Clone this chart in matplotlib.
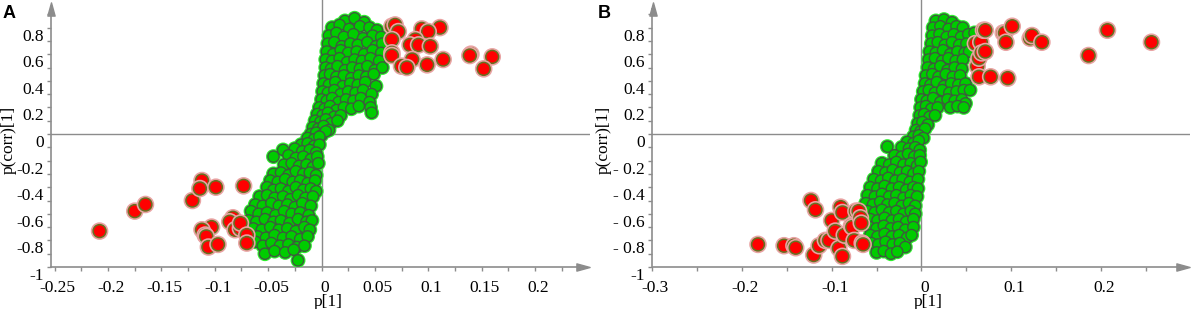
"""S-plots (p[1] vs p(corr)[1]) for two models, panels A and B."""

import matplotlib
matplotlib.use("Agg")
import matplotlib.pyplot as plt
import matplotlib.patheffects as pe
from matplotlib.path import Path
from matplotlib.transforms import ScaledTranslation

FIG_W, FIG_H = 1192, 309
AXIS_GRAY = "#8c8c8c"
GREEN_FILL, GREEN_EDGE, GREEN_RIM = "#00cc00", "#3d5c3d", "#2ef02e"
RED_FILL, RED_EDGE, RED_RIM = "#ff0000", "#667020", "#e9a3a3"
SERIF = ["Liberation Serif", "DejaVu Serif"]
plt.rcParams["font.family"] = SERIF

# ---- panel A -------------------------------------------------------------
A_XTICKS = [-0.25, -0.2, -0.15, -0.1, -0.05, 0, 0.05, 0.1, 0.15, 0.2]
A_XLABELS = ["-0.25", "-0.2", "-0.15", "-0.1", "-0.05", "0", "0.05", "0.1", "0.15", "0.2"]
A_XMINOR = [-0.225, -0.175, -0.125, -0.075, -0.025, 0.025, 0.075, 0.125, 0.175, 0.225]
A_YLABELS = ["-1", "-0.8", "-0.6", "-0.4", "-0.2", "0", "0.2", "0.4", "0.6", "0.8"]

A_GREEN = [
    (0.022, 0.85), (0.031, 0.87), (0.040, 0.84),
    (0.010, 0.80), (0.017, 0.82), (0.026, 0.79), (0.036, 0.81), (0.045, 0.80), (0.052, 0.78),
    (0.007, 0.74), (0.014, 0.76), (0.021, 0.73), (0.030, 0.75), (0.039, 0.72), (0.048, 0.74), (0.056, 0.73),
    (0.006, 0.68), (0.012, 0.69), (0.019, 0.66), (0.027, 0.68), (0.034, 0.67), (0.043, 0.69), (0.051, 0.66), (0.057, 0.68),
    (0.005, 0.62), (0.011, 0.60), (0.018, 0.63), (0.025, 0.61), (0.033, 0.62), (0.040, 0.60), (0.048, 0.63), (0.056, 0.61),
    (0.004, 0.56), (0.010, 0.55), (0.017, 0.57), (0.024, 0.54), (0.031, 0.56), (0.038, 0.55), (0.046, 0.57), (0.054, 0.55),
    (0.004, 0.50), (0.009, 0.49), (0.015, 0.51), (0.022, 0.48), (0.029, 0.50), (0.036, 0.49), (0.043, 0.51), (0.050, 0.48), (0.057, 0.50),
    (0.003, 0.44), (0.008, 0.45), (0.014, 0.43), (0.021, 0.44), (0.028, 0.42), (0.035, 0.44), (0.042, 0.43), (0.049, 0.45),
    (0.002, 0.38), (0.007, 0.37), (0.013, 0.39), (0.020, 0.36), (0.027, 0.38), (0.034, 0.37), (0.041, 0.39), (0.051, 0.36),
    (0.001, 0.32), (0.006, 0.31), (0.012, 0.33), (0.018, 0.30), (0.025, 0.32), (0.032, 0.31), (0.039, 0.33), (0.047, 0.30),
    (0.000, 0.26), (0.005, 0.25), (0.010, 0.27), (0.016, 0.24), (0.023, 0.26), (0.030, 0.25), (0.037, 0.27), (0.045, 0.24),
    (-0.002, 0.20), (0.003, 0.19), (0.008, 0.21), (0.014, 0.18), (0.021, 0.20), (0.028, 0.19), (0.035, 0.21), (0.046, 0.20),
    (-0.004, 0.15), (0.001, 0.14), (0.006, 0.16), (0.012, 0.13), (0.018, 0.14), (0.047, 0.16),
    (-0.006, 0.10), (-0.001, 0.09), (0.004, 0.11), (0.009, 0.08), (0.015, 0.10),
    (-0.008, 0.05), (-0.003, 0.04), (0.002, 0.06), (0.007, 0.03),
    (-0.010, 0.00), (-0.005, 0.01), (0.000, -0.01), (0.004, 0.02),
    (-0.013, -0.03), (-0.007, -0.04), (-0.002, -0.02),
    (-0.019, -0.08), (-0.013, -0.07), (-0.007, -0.09), (-0.002, -0.08),
    (-0.036, -0.12), (-0.025, -0.11), (-0.018, -0.13), (-0.011, -0.12), (-0.005, -0.14),
    (-0.045, -0.17), (-0.031, -0.16), (-0.024, -0.18), (-0.017, -0.17), (-0.010, -0.19), (-0.004, -0.17),
    (-0.035, -0.23), (-0.028, -0.22), (-0.021, -0.24), (-0.014, -0.23), (-0.008, -0.25), (-0.003, -0.22),
    (-0.045, -0.30), (-0.038, -0.29), (-0.031, -0.31), (-0.024, -0.28), (-0.017, -0.30), (-0.011, -0.29), (-0.005, -0.31),
    (-0.048, -0.35), (-0.041, -0.36), (-0.034, -0.34), (-0.027, -0.36), (-0.020, -0.35), (-0.013, -0.37), (-0.006, -0.35),
    (-0.051, -0.40), (-0.045, -0.42), (-0.038, -0.41), (-0.031, -0.43), (-0.024, -0.40), (-0.017, -0.42), (-0.010, -0.41), (-0.005, -0.43),
    (-0.058, -0.47), (-0.051, -0.46), (-0.044, -0.48), (-0.036, -0.47), (-0.029, -0.49), (-0.022, -0.46), (-0.015, -0.48), (-0.008, -0.47),
    (-0.062, -0.53), (-0.055, -0.54), (-0.047, -0.52), (-0.040, -0.54), (-0.032, -0.53), (-0.025, -0.55), (-0.018, -0.52), (-0.010, -0.54),
    (-0.066, -0.58), (-0.059, -0.60), (-0.051, -0.59), (-0.043, -0.61), (-0.035, -0.58), (-0.028, -0.60), (-0.020, -0.59), (-0.012, -0.61),
    (-0.068, -0.65), (-0.061, -0.66), (-0.053, -0.64), (-0.045, -0.66), (-0.038, -0.65), (-0.030, -0.67), (-0.022, -0.64), (-0.014, -0.66), (-0.009, -0.65),
    (-0.064, -0.71), (-0.056, -0.72), (-0.048, -0.70), (-0.040, -0.72), (-0.032, -0.71), (-0.024, -0.73), (-0.016, -0.70), (-0.011, -0.72),
    (-0.060, -0.77), (-0.052, -0.78), (-0.044, -0.76), (-0.036, -0.78), (-0.028, -0.77), (-0.020, -0.79), (-0.013, -0.77),
    (-0.062, -0.81), (-0.055, -0.84), (-0.047, -0.82), (-0.039, -0.84), (-0.031, -0.83), (-0.023, -0.85), (-0.016, -0.84),
    (-0.053, -0.90), (-0.044, -0.88), (-0.034, -0.89), (-0.026, -0.87),
    (-0.022, -0.95),
]

A_RED = [
    (-0.208, -0.73), (-0.175, -0.58), (-0.165, -0.53), (-0.121, -0.50), (-0.112, -0.35),
    (-0.114, -0.41), (-0.099, -0.40), (-0.073, -0.39), (-0.083, -0.63), (-0.086, -0.66),
    (-0.103, -0.70), (-0.112, -0.72), (-0.109, -0.76), (-0.108, -0.77), (-0.106, -0.85),
    (-0.097, -0.83), (-0.081, -0.72), (-0.076, -0.71), (-0.076, -0.67), (-0.070, -0.76),
    (-0.070, -0.82),
    (0.066, 0.81), (0.069, 0.82), (0.072, 0.77), (0.094, 0.79), (0.111, 0.80), (0.100, 0.77),
    (0.066, 0.71), (0.088, 0.71), (0.083, 0.67), (0.091, 0.67), (0.102, 0.66), (0.066, 0.61),
    (0.066, 0.59), (0.085, 0.56), (0.075, 0.51), (0.080, 0.50), (0.099, 0.52), (0.114, 0.56),
    (0.140, 0.60), (0.139, 0.59), (0.160, 0.58), (0.152, 0.49),
]

# ---- panel B -------------------------------------------------------------
B_XTICKS = [-0.3, -0.2, -0.1, 0, 0.1, 0.2]
B_XLABELS = ["-0.3", "-0.2", "-0.1", "0", "0.1", "0.2"]
B_XMINOR = [-0.25, -0.15, -0.05, 0.05, 0.15, 0.25]
B_YLABELS = ["-1", "- 0.8", "- 0.6", "- 0.4", "- 0.2", "0", "0.2", "0.4", "0.6", "0.8"]

B_GREEN = [
    (0.016, 0.85), (0.025, 0.86), (0.034, 0.84),
    (0.013, 0.80), (0.021, 0.81), (0.030, 0.79), (0.039, 0.81), (0.046, 0.80),
    (0.012, 0.74), (0.020, 0.75), (0.028, 0.73), (0.036, 0.75), (0.044, 0.73), (0.052, 0.75), (0.059, 0.76),
    (0.011, 0.68), (0.018, 0.69), (0.026, 0.67), (0.034, 0.69), (0.042, 0.67), (0.050, 0.68),
    (0.009, 0.62), (0.016, 0.61), (0.024, 0.63), (0.032, 0.60), (0.040, 0.62), (0.048, 0.61), (0.053, 0.62),
    (0.008, 0.56), (0.015, 0.57), (0.023, 0.55), (0.030, 0.57), (0.038, 0.55), (0.046, 0.56),
    (0.007, 0.50), (0.014, 0.49), (0.021, 0.51), (0.029, 0.48), (0.037, 0.50), (0.045, 0.49),
    (0.005, 0.44), (0.012, 0.45), (0.019, 0.43), (0.027, 0.45), (0.035, 0.43), (0.043, 0.44),
    (0.004, 0.38), (0.010, 0.37), (0.017, 0.39), (0.025, 0.36), (0.033, 0.38), (0.041, 0.37), (0.049, 0.38),
    (0.002, 0.32), (0.008, 0.33), (0.015, 0.31), (0.023, 0.33), (0.031, 0.31), (0.039, 0.32), (0.047, 0.33), (0.054, 0.33),
    (0.000, 0.26), (0.006, 0.25), (0.013, 0.27), (0.021, 0.24), (0.029, 0.26), (0.037, 0.25), (0.045, 0.26), (0.049, 0.23),
    (-0.001, 0.20), (0.005, 0.21), (0.011, 0.19), (0.018, 0.20), (0.032, 0.20), (0.040, 0.21), (0.047, 0.20),
    (-0.002, 0.14), (0.003, 0.15), (0.009, 0.13), (0.015, 0.14),
    (-0.004, 0.08), (0.001, 0.09), (0.007, 0.07),
    (-0.006, 0.03), (-0.001, 0.02), (0.004, 0.04),
    (-0.009, -0.02), (-0.003, -0.01), (0.002, -0.03),
    (-0.016, -0.06), (-0.009, -0.07), (-0.003, -0.05),
    (-0.038, -0.095), (-0.022, -0.10), (-0.014, -0.11), (-0.007, -0.10), (-0.002, -0.12),
    (-0.030, -0.16), (-0.022, -0.17), (-0.015, -0.15), (-0.008, -0.17), (-0.002, -0.16),
    (-0.044, -0.22), (-0.036, -0.23), (-0.028, -0.21), (-0.020, -0.23), (-0.012, -0.22), (-0.005, -0.24), (-0.001, -0.21),
    (-0.048, -0.28), (-0.040, -0.29), (-0.032, -0.27), (-0.024, -0.29), (-0.016, -0.28), (-0.009, -0.30), (-0.003, -0.28),
    (-0.053, -0.34), (-0.045, -0.35), (-0.037, -0.33), (-0.029, -0.35), (-0.021, -0.34), (-0.013, -0.36), (-0.004, -0.34),
    (-0.057, -0.40), (-0.049, -0.41), (-0.041, -0.39), (-0.033, -0.41), (-0.025, -0.40), (-0.017, -0.42), (-0.009, -0.40), (-0.004, -0.41),
    (-0.060, -0.46), (-0.052, -0.47), (-0.044, -0.45), (-0.036, -0.47), (-0.028, -0.46), (-0.020, -0.48), (-0.012, -0.46), (-0.005, -0.47),
    (-0.062, -0.52), (-0.054, -0.53), (-0.046, -0.51), (-0.038, -0.53), (-0.030, -0.52), (-0.022, -0.54), (-0.014, -0.52), (-0.007, -0.54),
    (-0.060, -0.58), (-0.052, -0.59), (-0.044, -0.57), (-0.036, -0.59), (-0.028, -0.58), (-0.020, -0.60), (-0.012, -0.58), (-0.007, -0.60),
    (-0.057, -0.64), (-0.049, -0.65), (-0.041, -0.63), (-0.033, -0.65), (-0.025, -0.64), (-0.017, -0.66), (-0.009, -0.64),
    (-0.058, -0.70), (-0.050, -0.71), (-0.042, -0.69), (-0.034, -0.71), (-0.026, -0.70), (-0.018, -0.72), (-0.009, -0.70),
    (-0.057, -0.76), (-0.049, -0.77), (-0.041, -0.75), (-0.033, -0.77), (-0.025, -0.76), (-0.016, -0.78), (-0.011, -0.76),
    (-0.056, -0.82), (-0.048, -0.83), (-0.040, -0.81), (-0.032, -0.83), (-0.024, -0.82), (-0.018, -0.85),
    (-0.050, -0.89), (-0.042, -0.88), (-0.034, -0.90), (-0.027, -0.885),
]

B_RED = [
    (-0.182, -0.83), (-0.153, -0.84), (-0.142, -0.84), (-0.140, -0.855), (-0.123, -0.50),
    (-0.118, -0.57), (-0.120, -0.91), (-0.114, -0.84), (-0.107, -0.80), (-0.103, -0.80),
    (-0.100, -0.65), (-0.090, -0.55), (-0.088, -0.59), (-0.096, -0.73), (-0.092, -0.86),
    (-0.088, -0.92), (-0.086, -0.76), (-0.078, -0.69), (-0.077, -0.70), (-0.075, -0.80),
    (-0.073, -0.58), (-0.070, -0.58), (-0.068, -0.63), (-0.067, -0.67), (-0.066, -0.82),
    (-0.065, -0.83),
    (0.060, 0.68), (0.062, 0.51), (0.064, 0.57), (0.064, 0.43), (0.066, 0.69), (0.067, 0.61),
    (0.069, 0.78), (0.071, 0.78), (0.071, 0.62), (0.077, 0.43), (0.091, 0.76), (0.093, 0.76),
    (0.094, 0.69), (0.096, 0.42), (0.101, 0.81), (0.121, 0.72), (0.123, 0.74), (0.134, 0.69),
    (0.186, 0.59), (0.207, 0.78), (0.256, 0.69),
]

Y_TICKS = [-1, -0.8, -0.6, -0.4, -0.2, 0, 0.2, 0.4, 0.6, 0.8]
Y_MINOR = [-0.9, -0.7, -0.5, -0.3, -0.1, 0.1, 0.3, 0.5, 0.7, 0.9]

# arrow head shapes (long, narrow triangles)
ARROW_RIGHT = Path([(-1, -0.55), (1, 0), (-1, 0.55), (-1, -0.55)], closed=True)
ARROW_UP = Path([(-0.55, -1), (0, 1), (0.55, -1), (-0.55, -1)], closed=True)


def draw_panel(fig, left_px, right_px, zero_px, x_per_px, xticks, xlabels, xminor,
               ylabels, green, red):
    top_px, bottom_px, y0_px, y_per_px = 0, 267, 134, 1 / 133
    ax = fig.add_axes([left_px / FIG_W, 1 - bottom_px / FIG_H,
                       (right_px - left_px) / FIG_W, (bottom_px - top_px) / FIG_H])
    ax.set_xlim((left_px - zero_px) * x_per_px, (right_px - zero_px) * x_per_px)
    ax.set_ylim(-1, (y0_px - top_px) * y_per_px)
    ax.patch.set_alpha(0)

    for side in ("top", "right"):
        ax.spines[side].set_visible(False)
    for side in ("left", "bottom"):
        ax.spines[side].set_color(AXIS_GRAY)
        ax.spines[side].set_linewidth(1.2)
    # stop the spines at the arrow heads
    ax.spines["left"].set_bounds(-1, (y0_px - 9) * y_per_px)
    ax.spines["bottom"].set_bounds((left_px - zero_px) * x_per_px,
                                   (right_px - 7 - zero_px) * x_per_px)
    ax.plot([(right_px - 7 - zero_px) * x_per_px], [-1], marker=ARROW_RIGHT,
            markersize=9.5, color=AXIS_GRAY, clip_on=False, zorder=5)
    ax.plot([(left_px - zero_px) * x_per_px], [(y0_px - 9) * y_per_px], marker=ARROW_UP,
            markersize=9.5, color=AXIS_GRAY, clip_on=False, zorder=5)

    ax.axhline(0, color=AXIS_GRAY, linewidth=1.0, zorder=1)
    ax.axvline(0, color=AXIS_GRAY, linewidth=1.0, zorder=1)

    ax.set_xticks(xticks)
    ax.set_xticklabels(xlabels, fontsize=12.5)
    ax.set_xticks(xminor, minor=True)
    ax.set_yticks(Y_TICKS)
    ax.set_yticklabels(ylabels, fontsize=12.5)
    ax.set_yticks(Y_MINOR, minor=True)
    ax.tick_params(which="both", direction="out", length=3, width=1,
                   color=AXIS_GRAY, pad=2)
    x_shift = ScaledTranslation(3 / 100, -6 / 100, fig.dpi_scale_trans)
    y_shift = ScaledTranslation(0, -7 / 100, fig.dpi_scale_trans)
    for lab in ax.get_xticklabels():
        lab.set_transform(lab.get_transform() + x_shift)
    for lab in ax.get_yticklabels():
        lab.set_transform(lab.get_transform() + y_shift)

    gx = [p[0] for p in green]
    gy = [p[1] for p in green]
    g = ax.scatter(gx, gy, s=66, c=GREEN_FILL, edgecolors=GREEN_EDGE,
                   linewidths=1.0, zorder=3)
    g.set_path_effects([pe.Stroke(linewidth=2.6, foreground=GREEN_RIM), pe.Normal()])

    # reds one by one so every marker keeps its own pink rim
    for x, y in red:
        r = ax.scatter([x], [y], s=86, c=RED_FILL, edgecolors=RED_EDGE,
                       linewidths=1.1, zorder=4)
        r.set_path_effects([pe.Stroke(linewidth=3.4, foreground=RED_RIM), pe.Normal()])
    return ax


def main() -> None:
    fig = plt.figure(figsize=(FIG_W / 100, FIG_H / 100), dpi=100)

    draw_panel(fig, 51, 590, 321.5, 0.05 / 53.35, A_XTICKS, A_XLABELS, A_XMINOR,
               A_YLABELS, A_GREEN, A_RED)
    draw_panel(fig, 652, 1190, 921, 0.1 / 90, B_XTICKS, B_XLABELS, B_XMINOR,
               B_YLABELS, B_GREEN, B_RED)

    for x_px, letter in [(3, "A"), (598, "B")]:
        fig.text(x_px / FIG_W, 1 - 18.5 / FIG_H, letter, fontsize=13, fontweight="bold",
                 family=["Liberation Sans", "DejaVu Sans"], va="baseline", ha="left")
    for x_px in (9, 604):
        fig.text(x_px / FIG_W, 1 - 140 / FIG_H, "p(corr)[1]", rotation=90, fontsize=12.5,
                 ha="center", va="center")
    for x_px in (328, 928):
        fig.text(x_px / FIG_W, 1 - 302 / FIG_H, "p[1]", fontsize=12.5,
                 ha="center", va="center")

    fig.savefig("out.png", dpi=100)
    plt.close(fig)


if __name__ == "__main__":
    main()
